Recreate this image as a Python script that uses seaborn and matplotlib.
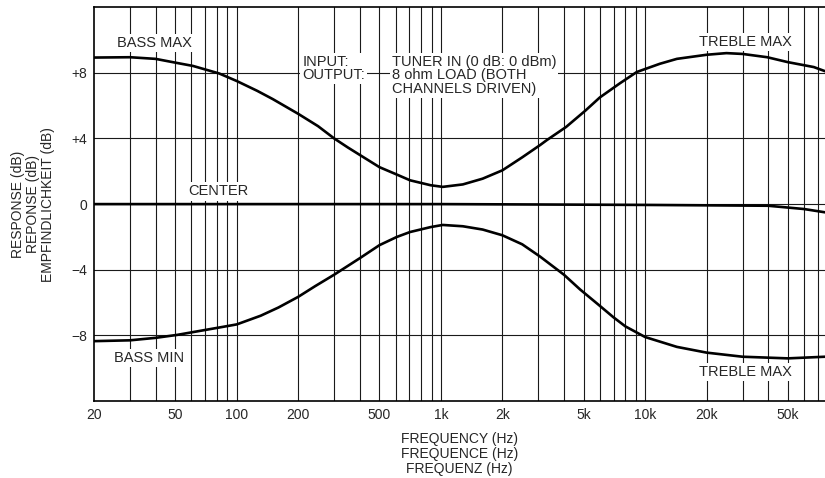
import numpy as np
import pandas as pd
import matplotlib
matplotlib.use("Agg")
import matplotlib.pyplot as plt
import seaborn as sns

sns.set_style("white")
plt.rcParams['font.family'] = ['Liberation Sans', 'DejaVu Sans']

# curve values (Hz, dB)
max_freq = [20, 30, 40, 51, 61, 82, 100, 126, 150, 200, 250, 300, 350, 400, 500,
            608, 706, 890, 1020, 1280, 1600, 2000, 2500, 3060, 3300, 4100,
            5100, 6000, 7500, 9100, 11800, 14300, 20000, 25000, 30000,
            39600, 50000, 67000, 76000]
max_db = [8.93, 8.95, 8.85, 8.6, 8.42, 7.96, 7.5, 6.9, 6.4, 5.5, 4.75, 4.0, 3.45, 3.0, 2.25,
          1.8, 1.45, 1.15, 1.05, 1.2, 1.55, 2.06, 2.85, 3.6, 3.9, 4.7,
          5.7, 6.5, 7.35, 8.05, 8.55, 8.85, 9.1, 9.2, 9.15,
          8.95, 8.65, 8.35, 8.1]

min_freq = [20, 30, 40, 51, 61, 82, 100, 131, 160, 200, 242, 300, 400, 500,
            608, 706, 890, 1020, 1280, 1600, 2000, 2500, 3060, 4000, 4800,
            6000, 7000, 8000, 10000, 14300, 20000, 30000, 50000, 76000]
min_db = [-8.35, -8.3, -8.15, -7.97, -7.8, -7.52, -7.33, -6.8, -6.3, -5.65, -5.0, -4.3, -3.3, -2.5,
          -2.0, -1.7, -1.4, -1.27, -1.35, -1.55, -1.9, -2.45, -3.2, -4.3, -5.2,
          -6.2, -6.9, -7.45, -8.1, -8.7, -9.05, -9.3, -9.4, -9.3]

center_freq = [20, 1000, 10000, 40000, 60000, 76000]
center_db = [0, 0, -0.05, -0.1, -0.3, -0.5]

xtick_vals = [20, 50, 100, 200, 500, 1000, 2000, 5000, 10000, 20000, 50000]
xtick_labels = ["20", "50", "100", "200", "500", "1k", "2k", "5k", "10k", "20k", "50k"]
ytick_vals = [8, 4, 0, -4, -8]
ytick_labels = ["+8", "+4", "0", "\u22124", "\u22128"]

df = pd.concat([
    pd.DataFrame({"freq": max_freq, "db": max_db, "curve": "max"}),
    pd.DataFrame({"freq": min_freq, "db": min_db, "curve": "min"}),
    pd.DataFrame({"freq": center_freq, "db": center_db, "curve": "center"}),
])

fig = plt.figure(figsize=(8.25, 4.78), dpi=100)
ax = fig.add_axes([0.114, 0.161, 0.886, 0.824])

sns.lineplot(data=df, x="freq", y="db", units="curve", estimator=None,
             color="black", lw=1.9, sort=False, ax=ax, zorder=3)

ax.set_xscale("log")
ax.set_xlim(20, 76000)
ax.set_ylim(-12, 12)

# grid: every log minor position + every 4 dB
grid_x = [m * 10 ** e for e in range(1, 5) for m in range(1, 10)]
grid_x = [g for g in grid_x if 20 < g < 76000]
for g in grid_x:
    ax.axvline(g, color="#1a1a1a", lw=0.8, zorder=1)
for g in ytick_vals:
    ax.axhline(g, color="#1a1a1a", lw=0.8, zorder=1)

ax.set_xticks(xtick_vals)
ax.set_xticklabels(xtick_labels)
ax.xaxis.set_minor_locator(matplotlib.ticker.NullLocator())
ax.set_yticks(ytick_vals)
ax.set_yticklabels(ytick_labels)
ax.tick_params(length=0, labelsize=10, pad=5)

for s in ["left", "bottom", "top"]:
    ax.spines[s].set_color("black")
    ax.spines[s].set_linewidth(1.2)
ax.spines["right"].set_visible(False)

ax.set_xlabel("FREQUENCY (Hz)\nFREQUENCE (Hz)\nFREQUENZ (Hz)", fontsize=10,
              linespacing=1.1, labelpad=7)
ax.set_ylabel("RESPONSE (dB)\nREPONSE (dB)\nEMPFINDLICHKEIT (dB)", fontsize=10,
              linespacing=1.05, labelpad=12)

box = dict(facecolor="white", edgecolor="none", pad=1.5)
kw = dict(fontsize=10.5, bbox=box, zorder=4, va="center")
ax.text(25.9, 9.8, "BASS MAX", **kw)
ax.text(31000, 9.85, "TREBLE MAX", ha="center", **kw)
ax.text(58, 0.77, "CENTER", **kw)
ax.text(25, -9.35, "BASS MIN", **kw)
ax.text(31000, -10.25, "TREBLE MAX", ha="center", **kw)
ax.text(209, 9.1, "INPUT:\nOUTPUT:", ha="left", va="top", fontsize=10.5,
        linespacing=0.95, bbox=box, zorder=4)
ax.text(574, 9.1, "TUNER IN (0 dB: 0 dBm)\n8 ohm LOAD (BOTH\nCHANNELS DRIVEN)",
        ha="left", va="top", fontsize=10.5, linespacing=0.95, bbox=box, zorder=4)

fig.savefig("out.png", dpi=100)
